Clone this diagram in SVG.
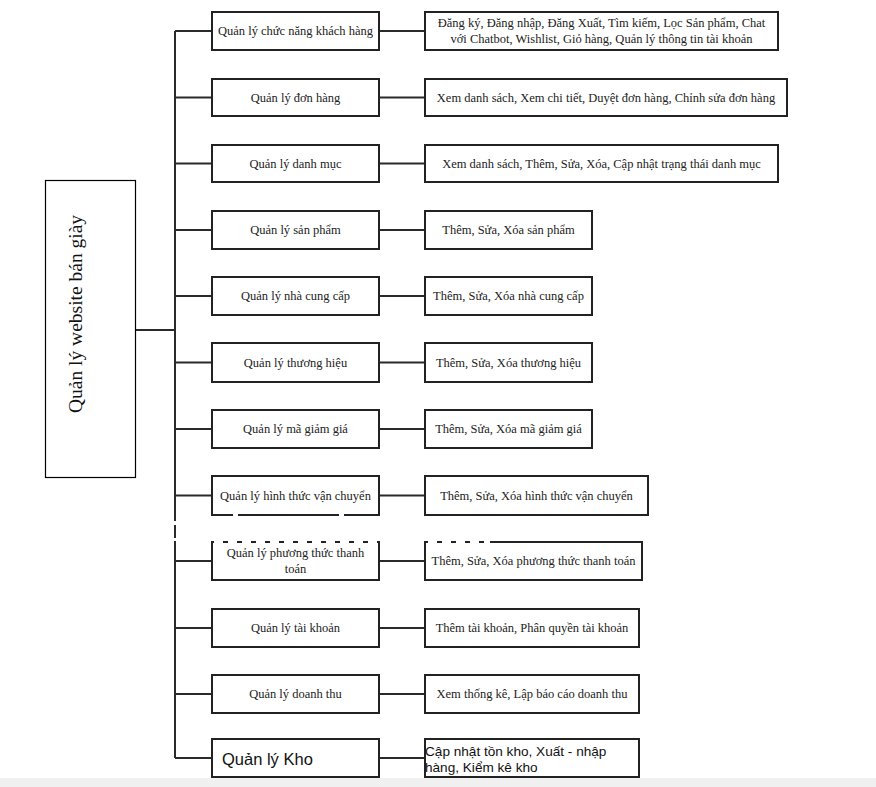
<svg xmlns="http://www.w3.org/2000/svg" width="876" height="787" viewBox="0 0 876 787">
<style>
.bg{fill:#ffffff}
.box{fill:#ffffff;stroke:#222;stroke-width:2}
.root{fill:#ffffff;stroke:#000;stroke-width:1.2}
.ln{stroke:#2a2a2a;stroke-width:2;fill:none}
.t{font-family:"Liberation Serif","Times New Roman",serif;font-size:12.5px;fill:#222;text-anchor:middle}
.s{font-family:"Liberation Sans",Arial,sans-serif;fill:#111}
.glitch{stroke:#ffffff;stroke-width:3;stroke-dasharray:9 5;fill:none}
</style>
<rect class="bg" x="0" y="0" width="876" height="787"/>
<rect x="0" y="778" width="876" height="9" fill="#f0f0f0"/>

<g id="connectors">
<path class="ln" d="M175 31 V758"/>
<path class="ln" d="M135 330 H175"/>
<path class="ln" d="M175 31 H212 M175 97.5 H212 M175 163.5 H212 M175 230 H212 M175 296 H212 M175 362.5 H212 M175 429 H212 M175 495.5 H212 M175 561 H212 M175 628 H212 M175 694 H212 M175 758 H212"/>
<path class="ln" d="M379 31 H425 M379 97.5 H425 M379 163.5 H425 M379 230 H425 M379 296 H425 M379 362.5 H425 M379 429 H425 M379 495.5 H425 M379 561 H425 M379 628 H425 M379 694 H425 M379 758 H425"/>
</g>

<g id="root">
<rect class="root" x="45.5" y="180.5" width="90" height="297"/>
<text transform="translate(81.5,314) rotate(-90)" style="font-family:'Liberation Serif','Times New Roman',serif;font-size:19.5px;fill:#111;text-anchor:middle">Quản lý website bán giày</text>
</g>

<g id="n1"><rect class="box" x="212" y="12" width="167" height="38"/><text class="t" x="295.5" y="35">Quản lý chức năng khách hàng</text></g>
<g id="d1"><rect class="box" x="425" y="12" width="353" height="38"/><text class="t" x="601.5" y="27">Đăng ký, Đăng nhập, Đăng Xuất, Tìm kiếm, Lọc Sản phẩm, Chat</text><text class="t" x="601.5" y="43">với Chatbot, Wishlist, Giỏ hàng, Quản lý thông tin tài khoản</text></g>

<g id="n2"><rect class="box" x="212" y="79" width="167" height="37"/><text class="t" x="295.5" y="101.5">Quản lý đơn hàng</text></g>
<g id="d2"><rect class="box" x="425" y="79" width="362" height="37"/><text class="t" x="606" y="101.5">Xem danh sách, Xem chi tiết, Duyệt đơn hàng, Chỉnh sửa đơn hàng</text></g>

<g id="n3"><rect class="box" x="212" y="145" width="167" height="37"/><text class="t" x="295.5" y="167.5">Quản lý danh mục</text></g>
<g id="d3"><rect class="box" x="425" y="145" width="353" height="37"/><text class="t" x="601.5" y="167.5">Xem danh sách, Thêm, Sửa, Xóa, Cập nhật trạng thái danh mục</text></g>

<g id="n4"><rect class="box" x="212" y="211" width="167" height="38"/><text class="t" x="295.5" y="234">Quản lý sản phẩm</text></g>
<g id="d4"><rect class="box" x="425" y="211" width="167" height="38"/><text class="t" x="508.5" y="234">Thêm, Sửa, Xóa sản phẩm</text></g>

<g id="n5"><rect class="box" x="212" y="277" width="167" height="38"/><text class="t" x="295.5" y="300">Quản lý nhà cung cấp</text></g>
<g id="d5"><rect class="box" x="425" y="277" width="167" height="38"/><text class="t" x="508.5" y="300">Thêm, Sửa, Xóa nhà cung cấp</text></g>

<g id="n6"><rect class="box" x="212" y="343" width="167" height="39"/><text class="t" x="295.5" y="366.5">Quản lý thương hiệu</text></g>
<g id="d6"><rect class="box" x="425" y="343" width="167" height="39"/><text class="t" x="508.5" y="366.5">Thêm, Sửa, Xóa thương hiệu</text></g>

<g id="n7"><rect class="box" x="212" y="410" width="167" height="38"/><text class="t" x="295.5" y="433">Quản lý mã giảm giá</text></g>
<g id="d7"><rect class="box" x="425" y="410" width="167" height="38"/><text class="t" x="508.5" y="433">Thêm, Sửa, Xóa mã giảm giá</text></g>

<g id="n8"><rect class="box" x="212" y="476" width="167" height="39"/><text class="t" x="295.5" y="499.5">Quản lý hình thức vận chuyển</text></g>
<g id="d8"><rect class="box" x="425" y="476" width="223" height="39"/><text class="t" x="536.5" y="499.5">Thêm, Sửa, Xóa hình thức vận chuyển</text></g>

<g id="n9"><rect class="box" x="212" y="542" width="167" height="38"/><text class="t" x="295.5" y="557">Quản lý phương thức thanh</text><text class="t" x="295.5" y="573">toán</text></g>
<g id="d9"><rect class="box" x="425" y="542" width="217" height="38"/><text class="t" x="533.5" y="565">Thêm, Sửa, Xóa phương thức thanh toán</text></g>

<g id="n10"><rect class="box" x="212" y="609" width="167" height="38"/><text class="t" x="295.5" y="632">Quản lý tài khoản</text></g>
<g id="d10"><rect class="box" x="425" y="609" width="214" height="38"/><text class="t" x="532" y="632">Thêm tài khoản, Phân quyền tài khoản</text></g>

<g id="n11"><rect class="box" x="212" y="675" width="167" height="38"/><text class="t" x="295.5" y="698">Quản lý doanh thu</text></g>
<g id="d11"><rect class="box" x="425" y="675" width="214" height="38"/><text class="t" x="532" y="698">Xem thống kê, Lập báo cáo doanh thu</text></g>

<g id="n12"><rect class="box" x="212" y="739" width="167" height="38"/><text class="s" x="222" y="765" style="font-size:16.5px">Quản lý Kho</text></g>
<g id="d12"><rect class="box" x="425" y="739" width="214" height="38"/><text class="s" x="425" y="756" style="font-size:13.6px">Cập nhật tồn kho, Xuất - nhập</text><text class="s" x="425" y="772" style="font-size:13.6px">hàng, Kiểm kê kho</text></g>

<g id="artifact">
<path class="glitch" d="M214 542 H380 M428 542 H490"/>
<path d="M175 521 V525 M175 538 V541" stroke="#fff" stroke-width="3"/>
<path d="M233 515 H238 M339 515 H344" stroke="#fff" stroke-width="3"/>
</g>
</svg>
